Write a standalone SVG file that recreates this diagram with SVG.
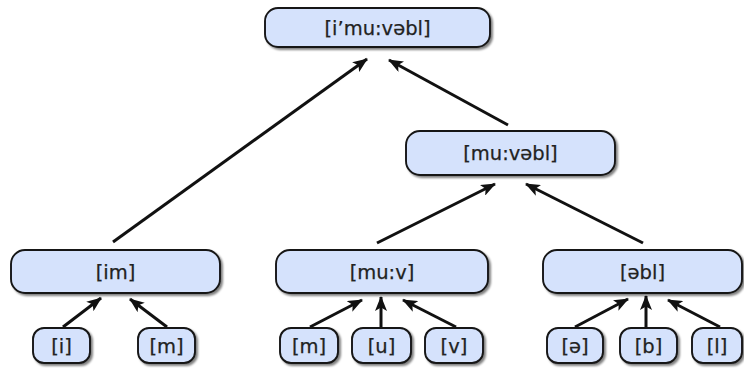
<svg xmlns="http://www.w3.org/2000/svg" width="744" height="374" viewBox="0 0 744 374">
<defs>
<marker id="ah" markerUnits="userSpaceOnUse" markerWidth="15" markerHeight="12" refX="14" refY="6" orient="auto">
<path d="M0,0 L15,6 L0,12 L3.5,6 z" fill="#111"/>
</marker>
<filter id="sh" x="-10%" y="-20%" width="130%" height="150%">
<feGaussianBlur in="SourceAlpha" stdDeviation="1"/>
<feOffset dx="1.5" dy="2" result="b"/>
<feComponentTransfer><feFuncA type="linear" slope="0.5"/></feComponentTransfer>
<feMerge><feMergeNode/><feMergeNode in="SourceGraphic"/></feMerge>
</filter>
</defs>
<style>
.n rect{fill:#d5e2fc;stroke:#161616;stroke-width:1.9;filter:url(#sh)}
.n text{font-family:"DejaVu Sans",sans-serif;font-size:19.5px;fill:#222;text-anchor:middle;stroke:#222;stroke-width:0.25}
#edges line{stroke:#111;stroke-width:3;marker-end:url(#ah)}
</style>
<rect width="744" height="374" fill="#fff"/>
<g id="edges">
<line x1="113" y1="242" x2="367" y2="59"/>
<line x1="508" y1="125" x2="389" y2="60"/>
<line x1="377" y1="243" x2="495" y2="184"/>
<line x1="643" y1="243" x2="526" y2="184"/>
<line x1="63" y1="327" x2="101" y2="298"/>
<line x1="167" y1="327" x2="130" y2="299"/>
<line x1="310" y1="327" x2="362" y2="300"/>
<line x1="381" y1="327" x2="381" y2="297"/>
<line x1="456" y1="327" x2="403" y2="300"/>
<line x1="575" y1="327" x2="628" y2="299"/>
<line x1="646" y1="327" x2="646" y2="296"/>
<line x1="720" y1="327" x2="668" y2="300"/>
</g>
<g id="n-top" class="n"><rect x="265" y="8" width="225" height="39" rx="13"/><text x="377.5" y="34.5">[i’mu:vəbl]</text></g>
<g id="n-muvabl" class="n"><rect x="406" y="131" width="209" height="44" rx="14"/><text x="510.5" y="160">[mu:vəbl]</text></g>
<g id="n-im" class="n"><rect x="11" y="250" width="209" height="43" rx="14"/><text x="115.5" y="279">[im]</text></g>
<g id="n-muv" class="n"><rect x="276" y="250" width="212" height="43" rx="14"/><text x="382" y="279">[mu:v]</text></g>
<g id="n-abl" class="n"><rect x="543" y="250" width="199" height="43" rx="14"/><text x="642.5" y="279">[əbl]</text></g>
<g id="n-i" class="n"><rect x="33" y="328" width="57" height="35" rx="11"/><text x="61.5" y="353">[i]</text></g>
<g id="n-m1" class="n"><rect x="138" y="328" width="57" height="35" rx="11"/><text x="166.5" y="353">[m]</text></g>
<g id="n-m2" class="n"><rect x="280" y="328" width="58" height="35" rx="11"/><text x="309" y="353">[m]</text></g>
<g id="n-u" class="n"><rect x="352" y="328" width="59" height="35" rx="11"/><text x="381.5" y="353">[u]</text></g>
<g id="n-v" class="n"><rect x="425" y="328" width="58" height="35" rx="11"/><text x="454" y="353">[v]</text></g>
<g id="n-schwa" class="n"><rect x="547" y="328" width="56" height="35" rx="11"/><text x="575" y="353">[ə]</text></g>
<g id="n-b" class="n"><rect x="620" y="328" width="57" height="35" rx="11"/><text x="648.5" y="353">[b]</text></g>
<g id="n-l" class="n"><rect x="692" y="328" width="50" height="35" rx="11"/><text x="717" y="353">[l]</text></g>
</svg>
